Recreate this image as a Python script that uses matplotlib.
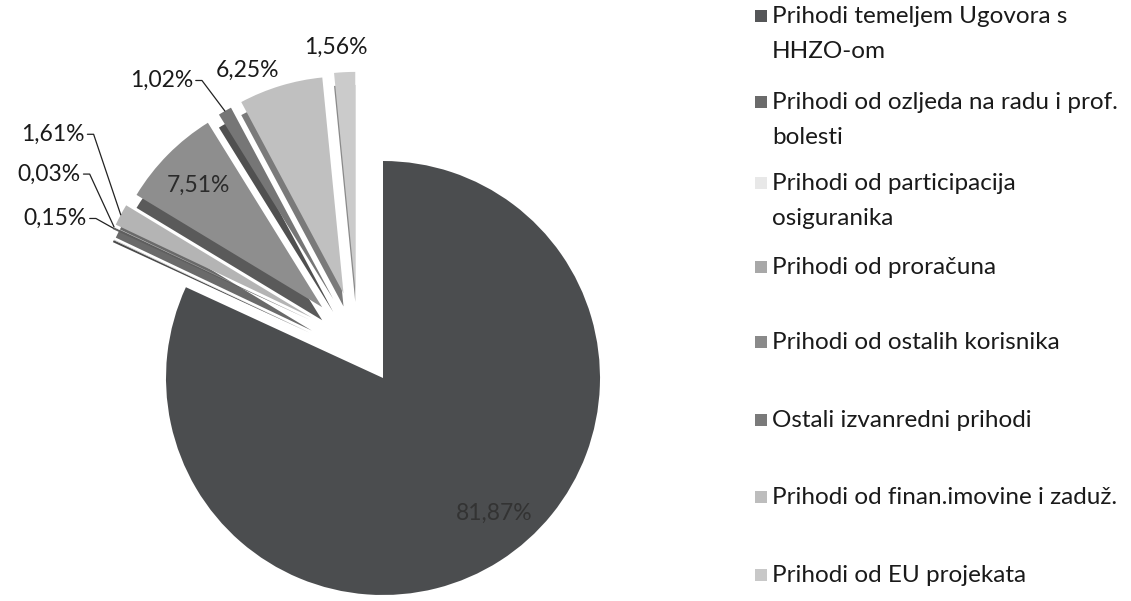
import numpy as np
import matplotlib
matplotlib.use("Agg")
import matplotlib.pyplot as plt
from matplotlib.patches import Wedge, Rectangle

# ---- data (clockwise from 12 o'clock)
labels = [
    "Prihodi temeljem Ugovora s\nHHZO-om",
    "Prihodi od ozljeda na radu i prof.\nbolesti",
    "Prihodi od participacija\nosiguranika",
    "Prihodi od proračuna",
    "Prihodi od ostalih korisnika",
    "Ostali izvanredni prihodi",
    "Prihodi od finan.imovine i zaduž.",
    "Prihodi od EU projekata",
]
shares = [81.87, 0.15, 0.03, 1.61, 7.51, 1.02, 6.25, 1.56]
pct_labels = ["81,87%", "0,15%", "0,03%", "1,61%", "7,51%", "1,02%", "6,25%", "1,56%"]

face_colors = ["#4b4d4f", "#5e5e5e", "#e6e6e6", "#b4b4b4", "#8e8e8e", "#767676", "#c0c0c0", "#cbcbcb"]
side_colors = ["#3a3b3c", "#4a4a4a", "#9a9a9a", "#6a6a6a", "#5a5a5a", "#505050", "#7a7a7a", "#8a8a8a"]
legend_colors = ["#555658", "#6b6b6b", "#e8e8e8", "#a8a8a8", "#8a8a8a", "#7a7a7a", "#bdbdbd", "#c8c8c8"]

FONT = ["Lato", "DejaVu Sans"]
FS = 16.5
W, H = 1131, 601
R_PX = 217.0           # pie radius in pixels
CX, CY = 383.0, 378.0  # pie centre in pixels (from top-left)

fig = plt.figure(figsize=(W / 100, H / 100), dpi=100)
ax = fig.add_axes([0, 0, 1, 1])

wedges, _ = ax.pie(shares, colors=face_colors, startangle=90, counterclock=False,
                   radius=1.0, wedgeprops=dict(linewidth=0, zorder=3))
ax.set_xlim(-CX / R_PX, (W - CX) / R_PX)
ax.set_ylim(-(H - CY) / R_PX, CY / R_PX)
ax.set_aspect("auto")
ax.axis("off")

# explode the small slices (Excel-3D style: offsets pulled toward upper-left)
explode_d = 0.43
depth = 13.0 / R_PX
mids = []
for i, w in enumerate(wedges):
    mid = (0.5 * (w.theta1 + w.theta2)) % 360
    mids.append(mid)
    if i == 0:
        continue
    phi = np.deg2rad(0.55 * mid + 0.45 * 125)
    w.set_center((explode_d * np.cos(phi), explode_d * np.sin(phi)))

# extruded sides
for i, w in enumerate(wedges):
    if i == 0:
        continue
    cx, cy = w.center
    side = Wedge((cx, cy - depth), w.r, w.theta1, w.theta2,
                 facecolor=side_colors[i], linewidth=0, zorder=2)
    ax.add_patch(side)


def outer_point(i, frac=1.0):
    w = wedges[i]
    a = np.deg2rad(mids[i])
    cx, cy = w.center
    return cx + frac * w.r * np.cos(a), cy + frac * w.r * np.sin(a)


# inside labels
ax.annotate(pct_labels[0], xy=outer_point(0, 0.8), xytext=(13, 8), textcoords="offset points",
            color="#333333", fontsize=FS, family=FONT, ha="center", va="center", zorder=5)
ax.text(*outer_point(4, 0.8), pct_labels[4], color="#2b2b2b", fontsize=FS,
        family=FONT, ha="center", va="center", zorder=5)

# outside labels: (index, offset in points, leader line?)
outside = [
    (7, (-6, 18), False),
    (6, (-24, 11), False),
    (5, (-23, 22), True),
    (3, (-26, 58), True),
    (2, (-24, 38), True),
    (1, (-19, 7), True),
]
for i, off, leader in outside:
    xy = outer_point(i, 1.0)
    if leader:
        ax.annotate(pct_labels[i], xy=xy, xytext=off, textcoords="offset points",
                    fontsize=FS, family=FONT, color="#1a1a1a", ha="right", va="center",
                    zorder=5,
                    arrowprops=dict(arrowstyle="-", color="#222222", lw=0.9,
                                    shrinkA=0, shrinkB=0, relpos=(1, 0.5),
                                    connectionstyle="arc,angleA=0,armA=9,angleB=0,rad=0"))
    else:
        ax.annotate(pct_labels[i], xy=xy, xytext=off, textcoords="offset points",
                    fontsize=FS, family=FONT, color="#1a1a1a", ha="center", va="center",
                    zorder=5)

# legend (drawn by hand to mimic the Excel spacing)
leg_y = [16, 102, 183, 267, 342, 420, 497, 575]
for lab, col, y in zip(labels, legend_colors, leg_y):
    fig.patches.append(Rectangle((755 / W, 1 - (y + 6) / H), 12 / W, 12 / H,
                                 transform=fig.transFigure, facecolor=col,
                                 edgecolor="none"))
    for k, line in enumerate(lab.split("\n")):
        fig.text(772 / W, 1 - (y + 7 + 35 * k) / H, line, fontsize=17.5, family=FONT,
                 color="#1a1a1a", ha="left", va="baseline")

fig.savefig("out.png", dpi=100, facecolor="white")
